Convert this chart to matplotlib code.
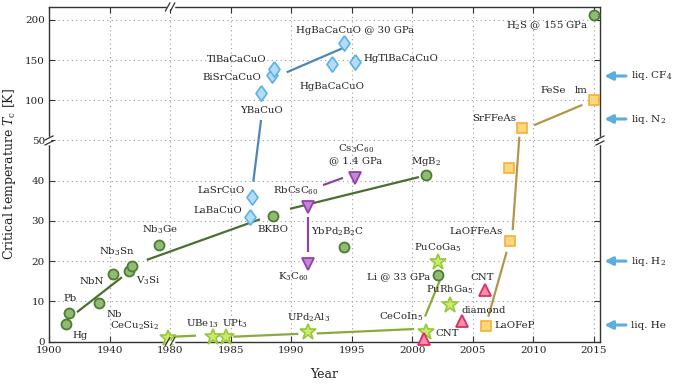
import numpy as np
import matplotlib
matplotlib.use("Agg")
import matplotlib.pyplot as plt
from matplotlib.transforms import blended_transform_factory
from matplotlib.lines import Line2D

plt.rcParams['font.family'] = ['DejaVu Serif']
plt.rcParams['mathtext.fontset'] = 'dejavuserif'

# ---------------- data ----------------
# conventional (green circles)
bcs_year = [1911, 1913, 1933, 1942.1, 1953.0, 1954.6, 1972.9, 1988.47, 1994.36, 2001.13, 2002.15, 2015.0]
bcs_tc = [4.3, 7.2, 9.6, 16.8, 17.5, 18.8, 24.0, 31.2, 23.6, 41.4, 16.5, 206.0]
# heavy fermions (stars)
hf_year = [1978.5, 1983.57, 1984.62, 1991.41, 2001.13, 2003.11, 2002.15]
hf_tc = [0.95, 1.2, 1.05, 2.3, 2.4, 9.1, 19.7]
# cuprates (diamonds)
cu_year = [1986.6, 1986.79, 1987.5, 1988.44, 1988.58, 1993.34, 1994.38, 1995.27]
cu_tc = [31.0, 36.0, 108.7, 131.1, 138.9, 145.1, 170.9, 147.3]
# fullerides (down triangles)
c60_year = [1991.39, 1991.39, 1995.27]
c60_tc = [33.4, 19.2, 40.7]
# carbon (up triangles)
cb_year = [2000.97, 2004.13, 2006.0]
cb_tc = [0.6, 5.1, 12.9]
# iron based (squares)
fe_year = [2006.08, 2008.01, 2008.07, 2009.03, 2015.0]
fe_tc = [3.9, 43.1, 25.1, 65.2, 100.4]

# trend segments: (year0, tc0, year1, tc1)
bcs_seg = [(1918.5, 7.3, 1948.2, 16.0), (1964.6, 20.3, 1987.42, 30.4), (1989.9, 33.0, 2000.55, 40.9)]
hf_seg = [(1980.26, 1.2, 1982.14, 1.45), (1985.22, 1.2, 1990.59, 1.9), (1992.1, 2.0, 2000.14, 3.1),
          (2001.05, 6.2, 2002.29, 15.3)]
cu_seg = [(1987.51, 75.5, 1986.87, 39.75), (1989.63, 134.8, 1994.28, 165.0)]
c60_seg = [(1991.39, 31.0, 1991.39, 22.3), (1992.63, 38.9, 1994.28, 40.7)]
fe_seg = [(2006.28, 6.2, 2007.79, 22.3), (2008.29, 27.7, 2008.84, 54.7), (2010.05, 69.0, 2014.04, 94.2)]

# labels
label_texts = ["Hg", "Pb", "Nb", "NbN", "Nb$_3$Sn", "V$_3$Si", "Nb$_3$Ge", "CeCu$_2$Si$_2$",
               "UBe$_{13}$", "UPt$_3$", "UPd$_2$Al$_3$", "LaBaCuO", "LaSrCuO", "BKBO",
               "RbCsC$_{60}$", "K$_3$C$_{60}$", "YbPd$_2$B$_2$C", "Cs$_3$C$_{60}$\n@ 1.4 GPa",
               "MgB$_2$", "Li @ 33 GPa", "PuCoGa$_5$", "PuRhGa$_5$", "CeCoIn$_5$", "CNT",
               "diamond", "CNT", "LaOFeP", "LaOFFeAs", "SrFFeAs", "FeSe", "lm",
               "H$_2$S @ 155 GPa", "HgBaCaCuO @ 30 GPa", "HgTlBaCaCuO", "HgBaCaCuO",
               "TlBaCaCuO", "BiSrCaCuO", "YBaCuO"]
label_years = [1915.8, 1909.6, 1937.7, 1936.3, 1944.6, 1957.4, 1973.4, 1972.6,
               1982.63, 1985.36, 1991.43, 1985.94, 1986.18, 1988.46,
               1990.4, 1990.15, 1993.82, 1995.35,
               2001.13, 2001.46, 2002.08, 2003.09, 1999.1, 2001.87,
               2004.08, 2005.73, 2006.75, 2007.49, 2008.54, 2011.64, 2013.97,
               2014.51, 1995.31, 1995.93, 1993.39,
               1988.0, 1987.51, 1987.56]
label_tcs = [1.6, 10.6, 6.8, 14.9, 22.3, 15.0, 27.7, 3.9,
             4.5, 4.5, 5.9, 32.5, 37.5, 27.9,
             37.4, 16.0, 27.3, 46.7,
             44.7, 16.0, 23.2, 12.8, 6.2, 1.9,
             7.8, 16.0, 3.9, 27.3, 77.6, 112.0, 112.0,
             192.4, 186.6, 152.2, 116.9,
             150.1, 128.6, 87.9]
label_aligns = ["left", "left", "left", "right", "center", "left", "center", "right",
                "center", "center", "center", "right", "right", "center",
                "center", "center", "center", "center",
                "center", "right", "center", "center", "center", "left",
                "left", "center", "left", "right", "right", "center", "center",
                "right", "center", "left", "center",
                "right", "right", "center"]

# cooling liquids
liq_names = ["liq. CF$_4$", "liq. N$_2$", "liq. H$_2$", "liq. He"]
liq_tc = [130.2, 76.7, 20.0, 4.1]

xticks = [1900, 1940, 1980, 1985, 1990, 1995, 2000, 2005, 2010, 2015]
yticks = [0, 10, 20, 30, 40, 50, 100, 150, 200]


# ---------------- scales ----------------
def xf(x):
    x = np.asarray(x, dtype=float)
    return np.where(x < 1980, 1980 - (1980 - x) / 8.0, x)


def xinv(t):
    t = np.asarray(t, dtype=float)
    return np.where(t < 1980, 1980 - (1980 - t) * 8.0, t)


def yf(y):
    y = np.asarray(y, dtype=float)
    return np.where(y > 50, 50 + (y - 50) / 5.0, y)


def yinv(t):
    t = np.asarray(t, dtype=float)
    return np.where(t > 50, 50 + (t - 50) * 5.0, t)


W, H = 680, 392
fig = plt.figure(figsize=(W / 100, H / 100), dpi=100)
ax = fig.add_axes([49 / W, 1 - 341.5 / H, 551 / W, 334.5 / H])
ax.set_xscale('function', functions=(xf, xinv))
ax.set_yscale('function', functions=(yf, yinv))
ax.set_xlim(1900, 2015.5)
ax.set_ylim(0, 216)

ax.set_xticks(xticks)
ax.set_xticklabels([str(v) for v in xticks])
ax.set_yticks(yticks)
ax.set_yticklabels([str(v) for v in yticks])
ax.minorticks_off()
ax.tick_params(direction='in', top=True, right=True, length=4, width=0.8,
               color='#333333', labelsize=7.5, labelcolor='#222222', pad=3)
for s in ax.spines.values():
    s.set_color('#333333')
    s.set_linewidth(1.0)
ax.grid(True, color='#9a9a9a', linestyle=(0, (1, 3)), linewidth=0.8)
ax.set_axisbelow(True)

ax.set_xlabel("Year", fontsize=9, color='#222222')
ax.set_ylabel("Critical temperature $T_\\mathrm{c}$ [K]", fontsize=9, color='#222222')
ax.xaxis.set_label_coords(0.5, -0.08)
ax.yaxis.set_label_coords(-0.057, 0.5)

# colours
g_face, g_edge, g_line = '#8fbb72', '#4d7d33', '#4b6f2e'
s_face, s_edge, s_line = '#c9ea6e', '#96c93a', '#8aab3a'
d_face, d_edge, d_line = '#b5dcf5', '#5ab1e6', '#4f86b5'
v_face, v_edge, v_line = '#c585d6', '#9440ab', '#8c47a0'
t_face, t_edge = '#f48fa8', '#dc2d67'
q_face, q_edge, q_line = '#fcd77c', '#f3b13a', '#b5944c'


def segs(lst, color):
    for (x0, y0, x1, y1) in lst:
        ax.plot([x0, x1], [y0, y1], color=color, lw=1.6, zorder=2, solid_capstyle='butt')


segs(bcs_seg, g_line)
segs(hf_seg, s_line)
segs(cu_seg, d_line)
segs(c60_seg, v_line)
segs(fe_seg, q_line)

diamond_marker = [(0, 1), (0.72, 0), (0, -1), (-0.72, 0), (0, 1)]
ax.plot(bcs_year, bcs_tc, 'o', ms=7.2, mfc=g_face, mec=g_edge, mew=1.3, ls='none', zorder=3, clip_on=False)
ax.plot(hf_year, hf_tc, '*', ms=12, mfc=s_face, mec=s_edge, mew=1.2, ls='none', zorder=3, clip_on=False)
ax.plot(cu_year, cu_tc, marker=diamond_marker, ms=11, mfc=d_face, mec=d_edge, mew=1.2, ls='none', zorder=3)
ax.plot(c60_year, c60_tc, 'v', ms=9, mfc=v_face, mec=v_edge, mew=1.3, ls='none', zorder=3)
ax.plot(cb_year, cb_tc, '^', ms=9, mfc=t_face, mec=t_edge, mew=1.3, ls='none', zorder=3, clip_on=False)
ax.plot(fe_year, fe_tc, 's', ms=6.5, mfc=q_face, mec=q_edge, mew=1.2, ls='none', zorder=3, clip_on=False)

for txt, xx, yy, ha in zip(label_texts, label_years, label_tcs, label_aligns):
    ax.text(xx, yy, txt, ha=ha, va='center', fontsize=7.3, color='#222222',
            multialignment='center', zorder=4, linespacing=1.1)

# cooling liquid arrows
btr = blended_transform_factory(ax.transAxes, ax.transData)
for name, tc in zip(liq_names, liq_tc):
    ax.annotate('', xy=(1.008, tc), xytext=(1.047, tc), xycoords=btr, textcoords=btr,
                arrowprops=dict(arrowstyle='-|>', color='#5aaee0', lw=2.2, mutation_scale=12,
                                shrinkA=0, shrinkB=0), annotation_clip=False)
    ax.text(1.056, tc, name, transform=btr, ha='left', va='center', fontsize=7.5,
            color='#222222', clip_on=False)

# axis break marks
fig.canvas.draw()
xb = ax.transData.transform((1980, 1))[0]
yb = ax.transData.transform((1950, 50))[1]
x_left, y_bot = ax.transAxes.transform((0, 0))
x_right, y_top = ax.transAxes.transform((1, 1))
ident = matplotlib.transforms.IdentityTransform()


def hbreak(xc, yc):
    fig.add_artist(Line2D([xc - 2.5, xc + 2.5], [yc, yc], color='white', lw=2.5, transform=ident))
    for dx in (-2.5, 2.5):
        fig.add_artist(Line2D([xc + dx - 2.2, xc + dx + 2.2], [yc - 4, yc + 4], color='#333333',
                              lw=0.9, transform=ident))


def vbreak(xc, yc):
    fig.add_artist(Line2D([xc, xc], [yc - 2.5, yc + 2.5], color='white', lw=2.5, transform=ident))
    for dy in (-2.5, 2.5):
        fig.add_artist(Line2D([xc - 4, xc + 4], [yc + dy - 2, yc + dy + 2], color='#333333',
                              lw=0.9, transform=ident))


hbreak(xb, y_top)
hbreak(xb, y_bot)
vbreak(x_left, yb)
vbreak(x_right, yb)

fig.savefig("out.png", dpi=100)
